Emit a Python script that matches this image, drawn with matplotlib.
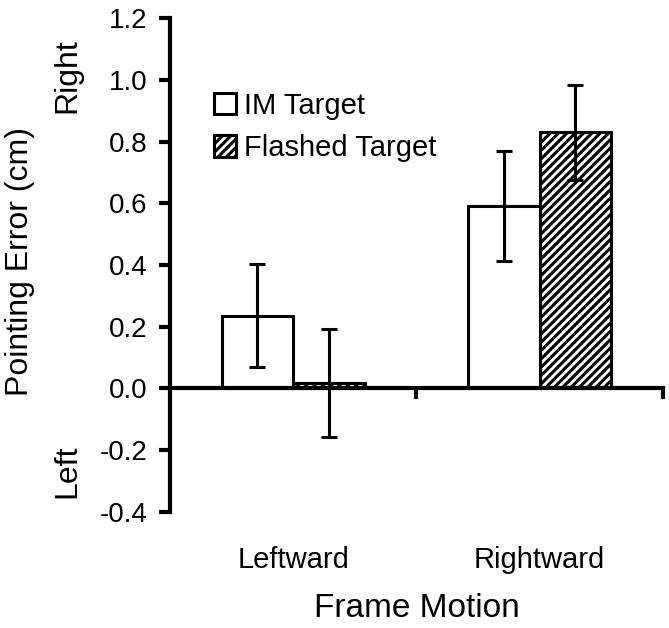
import matplotlib
matplotlib.use("Agg")
import matplotlib.pyplot as plt
import numpy as np

categories = ["Leftward", "Rightward"]
im_target = [0.236, 0.591]
im_err = [0.167, 0.177]
flashed_target = [0.017, 0.83]
flashed_err = [0.175, 0.155]
yticks = [-0.4, -0.2, 0.0, 0.2, 0.4, 0.6, 0.8, 1.0, 1.2]

plt.rcParams['font.family'] = ['Liberation Sans', 'DejaVu Sans']
plt.rcParams['hatch.linewidth'] = 2.2

fig = plt.figure(figsize=(6.69, 6.28), dpi=100)
ax = fig.add_axes([0.254, 0.185, 0.737, 0.786])

x = np.arange(len(categories))
w = 0.29
ekw = dict(elinewidth=2.2, capsize=6, capthick=2.2, ecolor='black')
ax.bar(x - w / 2, im_target, w, yerr=im_err, color='white', edgecolor='black',
       linewidth=2.2, error_kw=ekw, label='IM Target', zorder=2)
ax.bar(x + w / 2, flashed_target, w, yerr=flashed_err, color='white', edgecolor='black',
       linewidth=2.2, hatch='////', error_kw=ekw, label='Flashed Target', zorder=2)

ax.set_xlim(-0.5, 1.5)
ax.set_ylim(-0.4, 1.2)
ax.set_yticks(yticks)
ax.set_yticklabels(["%.1f" % v for v in yticks], fontsize=20)

ax.spines['top'].set_visible(False)
ax.spines['right'].set_visible(False)
ax.spines['bottom'].set_position(('data', 0))
ax.spines['left'].set_linewidth(3)
ax.spines['bottom'].set_linewidth(3)
ax.set_xticks([0.5, 1.5])
ax.set_xticklabels([])
ax.tick_params(axis='x', direction='out', length=8, width=3)
ax.tick_params(axis='y', direction='out', length=8, width=3, pad=8)

for xi, name in zip(x, categories):
    ax.text(xi, -0.555, name, ha='center', va='center', fontsize=21)
ax.text(0.5, -0.715, "Frame Motion", ha='center', va='center', fontsize=24)

fig.text(0.03, 0.583, "Pointing Error (cm)", rotation=90, ha='center', va='center', fontsize=23)
fig.text(0.1, 0.88, "Right", rotation=90, ha='center', va='center', fontsize=23)
fig.text(0.1, 0.25, "Left", rotation=90, ha='center', va='center', fontsize=23)

ax.legend(loc='upper left', bbox_to_anchor=(0.065, 0.875), frameon=False, fontsize=21,
          handlelength=0.75, handleheight=0.75, handletextpad=0.3, labelspacing=0.5,
          borderaxespad=0)

plt.savefig("out.png", dpi=100)
